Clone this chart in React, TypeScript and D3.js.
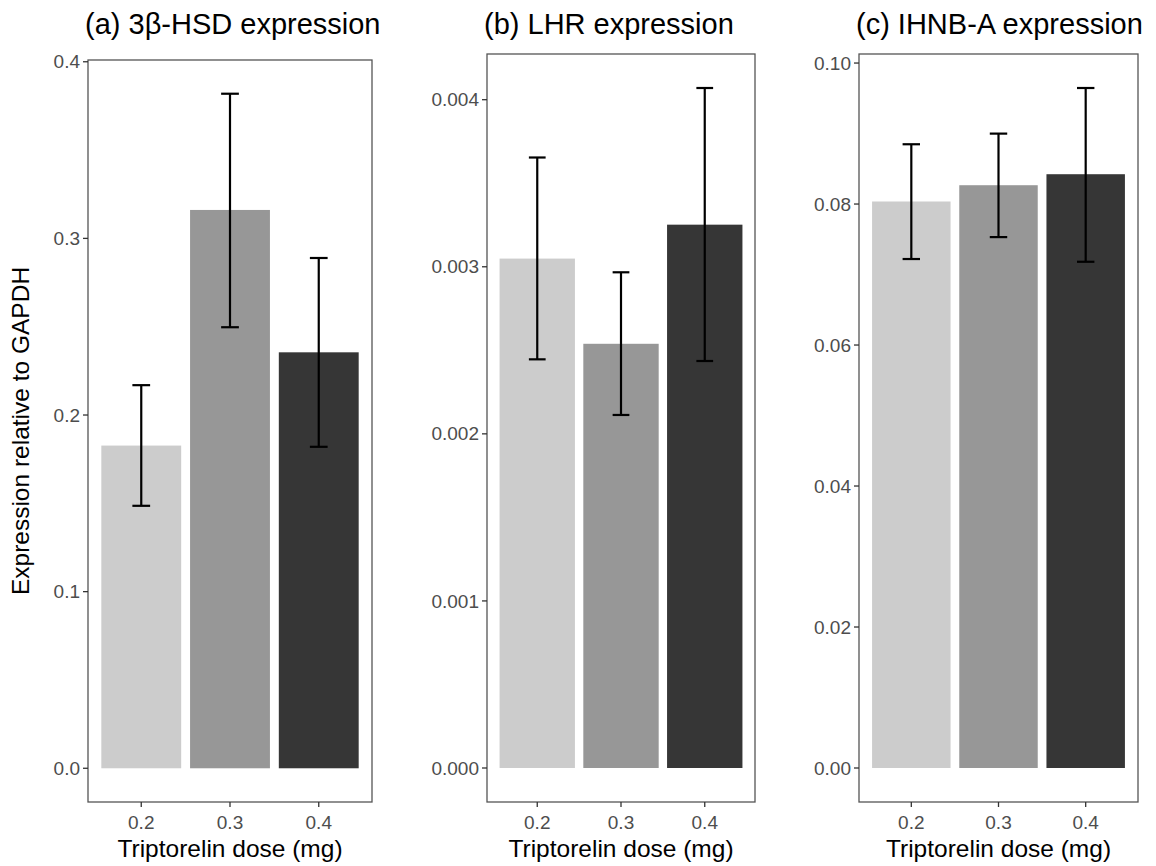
import React from 'react';
import * as d3 from 'd3';

// doses on the x axis
const doses = ['0.2', '0.3', '0.4'];
const fills = ['#cccccc', '#979797', '#363636'];

// (a) 3β-HSD
const hsdMean = [0.1827, 0.3161, 0.2355];
const hsdLow = [0.1486, 0.2497, 0.182];
const hsdHigh = [0.2169, 0.3819, 0.2889];
const hsdTicks = [0, 0.1, 0.2, 0.3, 0.4];

// (b) LHR
const lhrMean = [0.003049, 0.002539, 0.003252];
const lhrLow = [0.002446, 0.002113, 0.002436];
const lhrHigh = [0.003654, 0.002967, 0.00407];
const lhrTicks = [0, 0.001, 0.002, 0.003, 0.004];

// (c) IHNB-A
const ihnbMean = [0.08036, 0.08267, 0.08423];
const ihnbLow = [0.0722, 0.07531, 0.07181];
const ihnbHigh = [0.08848, 0.08999, 0.09646];
const ihnbTicks = [0, 0.02, 0.04, 0.06, 0.08, 0.1];

const panels = [
  { title: '(a) 3β-HSD expression', mean: hsdMean, lo: hsdLow, hi: hsdHigh, ticks: hsdTicks, fmt: '.1f', left: 88, right: 372, top: 60 },
  { title: '(b) LHR expression', mean: lhrMean, lo: lhrLow, hi: lhrHigh, ticks: lhrTicks, fmt: '.3f', left: 487, right: 755, top: 54 },
  { title: '(c) IHNB-A expression', mean: ihnbMean, lo: ihnbLow, hi: ihnbHigh, ticks: ihnbTicks, fmt: '.2f', left: 859, right: 1138, top: 54 },
];

const bottom = 802;
const font = '"Liberation Sans", Arial, Helvetica, sans-serif';

const Panel = ({ p }) => {
  // discrete axis like ggplot: 0.6 units of room on each side
  const x = d3.scalePoint().domain(doses).range([p.left, p.right]).padding(0.6);
  const step = x.step();
  const barW = step * 0.9;
  const capW = step * 0.2;
  const maxV = d3.max(p.hi);
  const y = d3.scaleLinear().domain([-maxV * 0.05, maxV * 1.05]).range([bottom, p.top]);
  const f = d3.format(p.fmt);

  return (
    <g>
      <text x={p.left - 3} y={34} fontSize={29} fill="#000">{p.title}</text>
      {doses.map((d, i) => (
        <rect key={d} x={x(d) - barW / 2} y={y(p.mean[i])} width={barW} height={y(0) - y(p.mean[i])} fill={fills[i]} />
      ))}
      {doses.map((d, i) => {
        const cx = x(d);
        return (
          <g key={d} stroke="#000" strokeWidth={2.2}>
            <line x1={cx} x2={cx} y1={y(p.hi[i])} y2={y(p.lo[i])} />
            <line x1={cx - capW / 2} x2={cx + capW / 2} y1={y(p.hi[i])} y2={y(p.hi[i])} />
            <line x1={cx - capW / 2} x2={cx + capW / 2} y1={y(p.lo[i])} y2={y(p.lo[i])} />
          </g>
        );
      })}
      <rect x={p.left} y={p.top} width={p.right - p.left} height={bottom - p.top} fill="none" stroke="#555" strokeWidth={1.3} />
      {p.ticks.map(t => (
        <g key={t}>
          <line x1={p.left - 5} x2={p.left} y1={y(t)} y2={y(t)} stroke="#333" strokeWidth={1.3} />
          <text x={p.left - 8} y={y(t)} dy="0.35em" textAnchor="end" fontSize={19} fill="#4d4d4d">{f(t)}</text>
        </g>
      ))}
      {doses.map(d => (
        <g key={d}>
          <line x1={x(d)} x2={x(d)} y1={bottom} y2={bottom + 5} stroke="#333" strokeWidth={1.3} />
          <text x={x(d)} y={829} textAnchor="middle" fontSize={19} fill="#4d4d4d">{d}</text>
        </g>
      ))}
      <text x={(p.left + p.right) / 2} y={857} textAnchor="middle" fontSize={24.5} fill="#000">Triptorelin dose (mg)</text>
    </g>
  );
};

export default function App() {
  const first = panels[0];
  return (
    <svg width={1156} height={866} style={{ position: 'absolute', left: 0, top: 0, background: '#fff' }} fontFamily={font}>
      <rect width={1156} height={866} fill="#fff" />
      {panels.map(p => <Panel key={p.title} p={p} />)}
      <text transform={`translate(29, ${(first.top + bottom) / 2}) rotate(-90)`} textAnchor="middle" fontSize={24.5} fill="#000">
        Expression relative to GAPDH
      </text>
    </svg>
  );
}
